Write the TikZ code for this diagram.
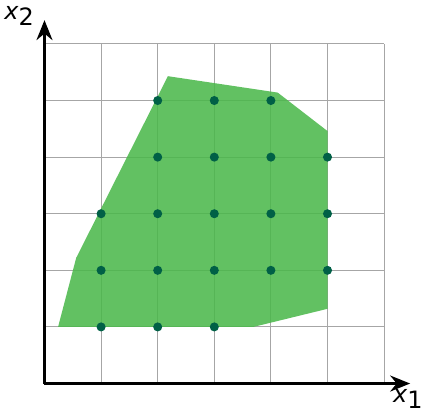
\documentclass[tikz,border=0pt]{standalone}
\usepackage{fontspec}
\usepackage{tikz}
\usetikzlibrary{arrows.meta}
\newfontfamily\axisfont{DejaVu Sans}
\definecolor{regiongreen}{RGB}{76,184,76}
\definecolor{pointgreen}{RGB}{0,96,70}

\begin{document}
\begin{tikzpicture}[font=\axisfont\large, axislabel/.style={inner sep=0pt}]
  \useasboundingbox (-0.786,-0.521) rectangle (6.705,6.776);
  % Grid
  \draw[gray!70, line width=0.5pt] (0,0) grid (6,6);
  % Feasible region
  \fill[regiongreen, opacity=0.88] (0.24,1) -- (0.56,2.22) -- (2.18,5.43)
    -- (4.12,5.14) -- (5,4.46) -- (5,1.32) -- (3.69,1) -- cycle;
  % Integer points inside the region
  \foreach \x/\y in {1/1,2/1,3/1,1/2,2/2,3/2,4/2,5/2,1/3,2/3,3/3,4/3,5/3,
                     2/4,3/4,4/4,5/4,2/5,3/5,4/5}
    \fill[pointgreen] (\x,\y) circle (0.08);
  % Axes
  \draw[-{Stealth[length=10pt,width=8pt]}, line width=1.5pt] (0,0) -- (6.46,0);
  \draw[-{Stealth[length=10pt,width=8pt]}, line width=1.5pt] (0,0) -- (0,6.42);
  \node[axislabel] (xone) at (6.42,-0.27) {\textit{x}\raisebox{-0.45ex}{1}};
  \node[axislabel] (xtwo) at (-0.45,6.49) {\textit{x}\raisebox{-0.45ex}{2}};
\end{tikzpicture}
\end{document}
